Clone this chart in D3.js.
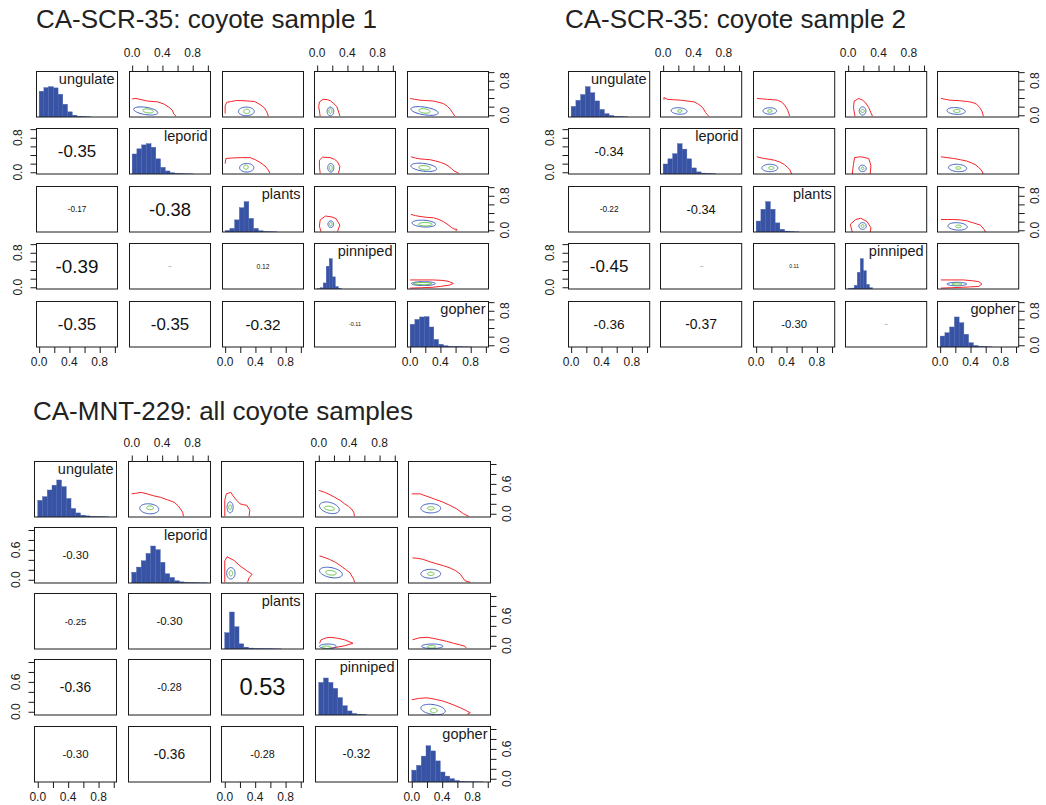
<!DOCTYPE html>
<html>
<head>
<meta charset="utf-8">
<script src="https://cdn.jsdelivr.net/npm/d3@7"></script>
<style>
  body { margin: 0; background: #fff; }
  svg { display: block; }
  text { font-family: "Liberation Sans", Arial, Helvetica, sans-serif; }
</style>
</head>
<body>
<svg id="chart" width="1046" height="805"></svg>
<script>
// ---- variables and axis ticks ----
const variables = ["ungulate", "leporid", "plants", "pinniped", "gopher"];
const xTicks = [0, 0.2, 0.4, 0.6, 0.8, 1.0];
const xTickLabels = ["0.0", "", "0.4", "", "0.8", ""];
const yTicksTop = [0, 0.2, 0.4, 0.6, 0.8, 1.0];
const yTickLabelsTop = ["0.0", "", "", "", "0.8", ""];
const yTicksBottom = [0, 0.2, 0.4, 0.6, 0.8, 1.0];
const yTickLabelsBottom = ["0.0", "", "", "0.6", "", ""];

// upper-panel order: (row, col) pairs, x = col variable, y = row variable
const upperPairs = [[0,1],[0,2],[0,3],[0,4],[1,2],[1,3],[1,4],[2,3],[2,4],[3,4]];

// ---- CA-SCR-35: coyote sample 1 ----
const scr1Title = "CA-SCR-35: coyote sample 1";
const scr1HistStep = [0.0625, 0.0625, 0.0625, 0.04, 0.0625];
const scr1Hist = [
  [0.85, 0.97, 1.0, 0.96, 0.75, 0.42, 0.17, 0.06, 0.025, 0.012, 0.006],
  [0.66, 0.83, 0.96, 1.0, 0.88, 0.5, 0.22, 0.1, 0.04, 0.02, 0.01, 0.006, 0.004],
  [0.05, 0.12, 0.4, 0.8, 1.0, 0.45, 0.12, 0.04, 0.015, 0.008, 0.005],
  [0.01, 0.04, 0.2, 0.75, 1.0, 0.4, 0.08, 0.02],
  [0.75, 0.91, 0.99, 1.0, 0.66, 0.25, 0.09, 0.04, 0.02, 0.012, 0.008, 0.005, 0.004]
];
const scr1Cor = [[-0.35], [-0.17, -0.38], [-0.39, 0.01, 0.12], [-0.35, -0.35, -0.32, -0.11]];
const scr1Red = [
  [[0,0.38],[0.05,0.39],[0.2,0.33],[0.34,0.31],[0.42,0.26],[0.49,0.18],[0.53,0.12],[0.55,0.03],[0.58,-0.02]],
  [[0,0.04],[0,0.22],[0.02,0.3],[0.08,0.32],[0.14,0.34],[0.22,0.34],[0.3,0.33],[0.39,0.32],[0.46,0.25],[0.52,0.17],[0.55,0.08],[0.57,-0.02]],
  [[0.04,-0.02],[0.03,0.1],[0.02,0.2],[0.03,0.31],[0.08,0.37],[0.14,0.36],[0.18,0.33],[0.22,0.27],[0.26,0.2],[0.28,0.1],[0.3,-0.02]],
  [[0,0.39],[0.06,0.37],[0.13,0.35],[0.22,0.34],[0.31,0.33],[0.38,0.3],[0.44,0.27],[0.49,0.21],[0.53,0.14],[0.56,0.06],[0.59,-0.02]],
  [[0,0.2],[0.01,0.32],[0.08,0.33],[0.2,0.34],[0.33,0.34],[0.4,0.29],[0.46,0.23],[0.53,0.14],[0.57,0.05],[0.59,-0.02]],
  [[0.04,-0.02],[0.03,0.12],[0.03,0.28],[0.07,0.35],[0.17,0.34],[0.23,0.3],[0.27,0.24],[0.3,0.13],[0.29,0.03],[0.28,-0.02]],
  [[0.01,0.36],[0.07,0.33],[0.13,0.31],[0.2,0.3],[0.27,0.29],[0.34,0.26],[0.4,0.23],[0.46,0.19],[0.5,0.15],[0.55,0.08],[0.58,0.03],[0.64,-0.02]],
  [[0.05,-0.03],[0.03,0.1],[0.04,0.24],[0.11,0.33],[0.19,0.31],[0.25,0.27],[0.3,0.12],[0.28,0.03],[0.27,-0.03]],
  [[0.01,0.37],[0.07,0.34],[0.13,0.32],[0.22,0.3],[0.31,0.29],[0.38,0.25],[0.44,0.2],[0.5,0.13],[0.55,0.06],[0.58,0.03],[0.62,0.02],[0.6,-0.02]],
  [[0,0.17],[0.15,0.17],[0.3,0.17],[0.42,0.16],[0.5,0.14],[0.57,0.09],[0.52,0.05],[0.4,0.02],[0.3,0.0],[0.15,-0.01],[0,-0.02]]
];
// ellipse contours: [cx, cy, rx, ry, shear]
const scr1Blue = [
  [0.18,0.10,0.16,0.085,-0.25],[0.28,0.09,0.105,0.1,0],[0.175,0.09,0.044,0.1,0],[0.19,0.1,0.18,0.09,-0.25],
  [0.285,0.105,0.094,0.1,0],[0.18,0.105,0.04,0.1,0],[0.18,0.115,0.17,0.09,-0.2],
  [0.18,0.14,0.037,0.078,0],[0.18,0.155,0.155,0.078,-0.1],[0.175,0.085,0.157,0.045,0]
];
const scr1Green = [
  [0.21,0.10,0.07,0.045,-0.2],[0.285,0.09,0.04,0.05,0],[0.175,0.10,0.02,0.06,0],[0.19,0.1,0.075,0.05,-0.2],
  [0.275,0.12,0.03,0.05,0],[0.18,0.1,0.018,0.06,0],[0.19,0.105,0.077,0.05,-0.15],
  [0.18,0.14,0.017,0.04,0],[0.2,0.14,0.09,0.04,0],[0.165,0.085,0.12,0.025,0]
];

// ---- CA-SCR-35: coyote sample 2 ----
const scr2Title = "CA-SCR-35: coyote sample 2";
const scr2HistStep = [0.0625, 0.0625, 0.0625, 0.04, 0.0625];
const scr2Hist = [
  [0.35, 0.55, 0.74, 1.0, 0.8, 0.53, 0.25, 0.11, 0.05, 0.02, 0.01, 0.005],
  [0.33, 0.5, 0.67, 1.0, 0.82, 0.5, 0.2, 0.07, 0.03, 0.02, 0.01],
  [0.36, 0.75, 1.0, 0.75, 0.3, 0.09, 0.03, 0.01, 0.005],
  [0.01, 0.03, 0.12, 0.55, 1.0, 0.6, 0.15, 0.04],
  [0.36, 0.47, 0.66, 0.99, 0.8, 0.42, 0.14, 0.05, 0.02, 0.01, 0.005]
];
const scr2Cor = [[-0.34], [-0.22, -0.34], [-0.45, -0.02, 0.11], [-0.36, -0.37, -0.30, 0.01]];
const scr2Red = [
  [[0.01,0.36],[0.01,0.41],[0.055,0.37],[0.14,0.36],[0.23,0.35],[0.32,0.33],[0.41,0.31],[0.47,0.25],[0.52,0.18],[0.56,0.06],[0.58,0.02],[0.6,-0.02]],
  [[0.01,0.39],[0.08,0.38],[0.15,0.37],[0.22,0.36],[0.28,0.35],[0.33,0.31],[0.37,0.25],[0.41,0.14],[0.43,0.05],[0.44,-0.02]],
  [[0.09,-0.02],[0.07,0.18],[0.08,0.33],[0.14,0.39],[0.19,0.35],[0.23,0.29],[0.27,0.18],[0.29,0.1],[0.32,-0.02]],
  [[0.01,0.39],[0.07,0.37],[0.13,0.35],[0.24,0.34],[0.35,0.32],[0.42,0.3],[0.48,0.26],[0.52,0.18],[0.55,0.1],[0.57,-0.02]],
  [[0.01,0.36],[0.1,0.32],[0.18,0.3],[0.24,0.28],[0.31,0.24],[0.37,0.18],[0.41,0.12],[0.44,0.07],[0.47,-0.05]],
  [[0.055,-0.05],[0.06,0.05],[0.07,0.18],[0.085,0.34],[0.165,0.36],[0.22,0.34],[0.27,0.32],[0.29,0.22],[0.3,0.15],[0.29,-0.05]],
  [[0.01,0.36],[0.09,0.34],[0.18,0.32],[0.27,0.29],[0.35,0.26],[0.41,0.22],[0.46,0.18],[0.51,0.11],[0.55,0.03],[0.57,-0.05]],
  [[0.055,-0.05],[0.04,0.05],[0.03,0.14],[0.1,0.25],[0.165,0.28],[0.25,0.2],[0.3,0.06],[0.29,-0.05]],
  [[0.01,0.25],[0.1,0.25],[0.18,0.25],[0.27,0.24],[0.35,0.22],[0.44,0.17],[0.53,0.12],[0.58,0.02],[0.6,-0.05]],
  [[0.01,0.17],[0.15,0.17],[0.31,0.17],[0.43,0.15],[0.51,0.13],[0.55,0.075],[0.51,0.02],[0.4,0.01],[0.31,0.0],[0.15,-0.01],[0.01,-0.02]]
];
const scr2Blue = [
  [0.21,0.1,0.105,0.075,-0.1],[0.18,0.1,0.09,0.075,0],[0.19,0.1,0.044,0.095,0],[0.21,0.1,0.12,0.078,-0.1],
  [0.18,0.1,0.105,0.085,0],[0.19,0.09,0.048,0.075,0],[0.23,0.1,0.12,0.085,-0.1],
  [0.19,0.1,0.048,0.078,0],[0.23,0.09,0.127,0.085,-0.1],[0.22,0.075,0.13,0.04,0]
];
const scr2Green = [
  [0.22,0.1,0.03,0.03,0],[0.18,0.1,0.03,0.03,0],[0.19,0.1,0.022,0.04,0],[0.22,0.1,0.044,0.035,0],
  [0.2,0.1,0.035,0.035,0],[0.19,0.09,0.018,0.03,0],[0.24,0.1,0.033,0.03,0],
  [0.19,0.1,0.018,0.035,0],[0.24,0.09,0.037,0.03,0],[0.22,0.075,0.066,0.025,0]
];

// ---- CA-MNT-229: all coyote samples ----
const mntTitle = "CA-MNT-229: all coyote samples";
const mntHistStep = [0.0625, 0.0625, 0.0625, 0.0625, 0.0625];
const mntHist = [
  [0.45, 0.55, 0.73, 0.86, 1.0, 0.82, 0.5, 0.23, 0.11, 0.05, 0.03, 0.015, 0.01, 0.006, 0.004],
  [0.29, 0.43, 0.6, 0.8, 1.0, 0.9, 0.56, 0.25, 0.15, 0.06, 0.03, 0.02, 0.01, 0.006, 0.005, 0.004],
  [0.44, 1.0, 0.6, 0.14, 0.05, 0.025, 0.015, 0.01, 0.008, 0.006, 0.005, 0.004],
  [0.88, 1.0, 0.88, 0.72, 0.47, 0.25, 0.11, 0.04, 0.02, 0.01],
  [0.32, 0.45, 0.7, 0.98, 0.84, 0.57, 0.27, 0.16, 0.09, 0.04, 0.02, 0.01, 0.006, 0.005, 0.004]
];
const mntCor = [[-0.30], [-0.25, -0.30], [-0.36, -0.28, 0.53], [-0.30, -0.36, -0.28, -0.32]];
const mntRed = [
  [[0,0.4],[0.05,0.41],[0.12,0.43],[0.2,0.4],[0.29,0.36],[0.38,0.33],[0.47,0.28],[0.56,0.23],[0.61,0.16],[0.64,0.1],[0.67,0.03],[0.68,-0.05]],
  [[0,-0.05],[0,0.27],[0.02,0.4],[0.08,0.43],[0.11,0.36],[0.14,0.3],[0.2,0.2],[0.25,0.18],[0.29,0.17],[0.33,0.07],[0.32,-0.05]],
  [[0,0.47],[0.08,0.43],[0.15,0.38],[0.21,0.33],[0.28,0.27],[0.34,0.2],[0.39,0.15],[0.43,0.1],[0.46,0.03],[0.47,-0.05]],
  [[0,0.4],[0.11,0.4],[0.2,0.35],[0.29,0.3],[0.4,0.24],[0.5,0.17],[0.59,0.1],[0.68,0.0],[0.75,-0.05]],
  [[0,-0.05],[0,0.38],[0.03,0.46],[0.12,0.39],[0.2,0.28],[0.29,0.18],[0.36,0.11],[0.32,0.04],[0.3,-0.05]],
  [[0.01,0.48],[0.07,0.45],[0.14,0.41],[0.22,0.35],[0.29,0.28],[0.35,0.21],[0.41,0.14],[0.46,0.01],[0.47,-0.05]],
  [[0.01,0.44],[0.08,0.43],[0.15,0.41],[0.24,0.36],[0.33,0.32],[0.42,0.28],[0.5,0.24],[0.58,0.18],[0.64,0.11],[0.7,-0.02],[0.77,-0.05]],
  [[0.01,0.05],[0.03,0.12],[0.1,0.16],[0.16,0.17],[0.25,0.15],[0.34,0.12],[0.45,0.05],[0.34,0.0],[0.16,-0.05]],
  [[0.01,0.12],[0.1,0.16],[0.2,0.17],[0.28,0.15],[0.37,0.12],[0.46,0.09],[0.55,0.05],[0.63,0.02],[0.7,-0.01],[0.72,-0.05]],
  [[0,0.24],[0.1,0.27],[0.2,0.28],[0.31,0.25],[0.42,0.21],[0.53,0.15],[0.64,0.08],[0.72,0.02],[0.77,-0.02],[0.73,-0.05]]
];
const mntBlue = [
  [0.23,0.1,0.125,0.1,-0.1],[0.07,0.13,0.04,0.11,0],[0.14,0.12,0.13,0.11,-0.3],[0.25,0.11,0.13,0.093,0],
  [0.08,0.13,0.055,0.115,0],[0.16,0.145,0.15,0.1,-0.25],[0.25,0.12,0.13,0.09,0],
  [0.12,-0.01,0.11,0.045,0],[0.27,-0.01,0.14,0.045,0],[0.28,0.045,0.16,0.1,-0.2]
];
const mntGreen = [
  [0.24,0.12,0.046,0.037,0],[0.07,0.13,0.018,0.05,0],[0.14,0.11,0.066,0.04,-0.2],[0.25,0.11,0.044,0.033,0],
  [0.08,0.13,0.022,0.055,0],[0.16,0.14,0.07,0.045,-0.15],[0.25,0.12,0.044,0.033,0],
  [0.1,-0.03,0.06,0.025,0],[0.26,-0.02,0.055,0.025,0],[0.29,0.025,0.044,0.045,0]
];

// ---- styling ----
const HIST_FILL = "#3953a4";
const HIST_EDGE = "#4862b0";
const RED = "#f4242a";
const BLUE = "#3a5cc0";
const GREEN = "#5cbf3c";
const INK = "#1a1a1a";

// plain hyphen for negative numbers
const fmtCor = v => d3.format(".2f")(v).replace("\u2212", "-");

const svg = d3.select("#chart");
let clipId = 0;

function drawMatrix(cfg) {
  const g = svg.append("g");
  g.append("text")
    .attr("x", cfg.titleX).attr("y", cfg.titleY)
    .attr("font-size", 26).attr("fill", "#222")
    .text(cfg.title);

  const n = variables.length;
  const cell = (r, c) => {
    const x0 = Math.round(cfg.left + c * cfg.pitchX) + 0.5;
    const y0 = Math.round(cfg.top + r * cfg.pitchY) + 0.5;
    return {x0, y0, x1: x0 + cfg.w, y1: y0 + cfg.h};
  };

  for (let r = 0; r < n; r++) {
    for (let c = 0; c < n; c++) {
      const b = cell(r, c);
      const x = d3.scaleLinear().domain(cfg.xDomain).range([b.x0, b.x1]);
      const y = d3.scaleLinear().domain(cfg.yDomain).range([b.y1, b.y0]);
      const p = g.append("g");
      const id = "clip" + (clipId++);
      p.append("clipPath").attr("id", id).append("rect")
        .attr("x", b.x0).attr("y", b.y0).attr("width", cfg.w).attr("height", cfg.h);
      const inner = p.append("g").attr("clip-path", `url(#${id})`);

      if (r === c) {
        // diagonal: histogram scaled so the tallest bar reaches 1 on a 0..1.5 axis
        const hy = d3.scaleLinear().domain([0, 1.5]).range([b.y1, b.y0]);
        const step = cfg.histStep[r];
        const bins = cfg.hist[r].map((v, i) => ({x0: i * step, x1: (i + 1) * step, v}));
        inner.selectAll("rect.bar").data(bins).join("rect")
          .attr("class", "bar")
          .attr("x", d => x(d.x0)).attr("width", d => x(d.x1) - x(d.x0))
          .attr("y", d => hy(d.v)).attr("height", d => hy(0) - hy(d.v))
          .attr("fill", HIST_FILL).attr("stroke", HIST_EDGE).attr("stroke-width", 0.4);
        p.append("text")
          .attr("x", b.x1 - 3).attr("y", b.y0 + 12.5)
          .attr("text-anchor", "end").attr("font-size", 14.5).attr("fill", INK)
          .text(variables[r]);
      } else if (r > c) {
        // lower: correlation, text width proportional to |r|
        const val = cfg.cor[r - 1][c];
        const t = p.append("text")
          .attr("x", (b.x0 + b.x1) / 2).attr("y", (b.y0 + b.y1) / 2)
          .attr("text-anchor", "middle").attr("dominant-baseline", "central")
          .attr("font-size", 20).attr("fill", "#111")
          .text(fmtCor(val));
        const len = t.node().getComputedTextLength();
        t.attr("font-size", Math.max(1.5, 20 * cfg.corScale * Math.abs(val) / len));
      } else {
        // upper: density contours
        const k = upperPairs.findIndex(([a, bb]) => a === r && bb === c);
        const line = d3.line().x(d => x(d[0])).y(d => y(d[1]));
        const ellipse = ([cx, cy, rx, ry, sh]) => d3.range(0, 65).map(i => {
          const t = i / 64 * 2 * Math.PI;
          const dx = rx * Math.cos(t);
          return [cx + dx, cy + ry * Math.sin(t) + sh * dx];
        });
        inner.append("path").attr("d", line(cfg.red[k]))
          .attr("fill", "none").attr("stroke", RED).attr("stroke-width", 1);
        inner.append("path").attr("d", line(ellipse(cfg.blue[k])))
          .attr("fill", "none").attr("stroke", BLUE).attr("stroke-width", 1);
        inner.append("path").attr("d", line(ellipse(cfg.green[k])))
          .attr("fill", "none").attr("stroke", GREEN).attr("stroke-width", 1);
      }

      p.append("rect")
        .attr("x", b.x0).attr("y", b.y0).attr("width", cfg.w).attr("height", cfg.h)
        .attr("fill", "none").attr("stroke", INK).attr("stroke-width", 1);

      // outer axes, alternating sides as in a pairs plot
      const ya = cfg.yTicks, yl = cfg.yTickLabels;
      if (r === 0 && c % 2 === 1) {
        const ax = p.append("g").attr("transform", `translate(0,${b.y0})`)
          .call(d3.axisTop(x).tickValues(xTicks).tickFormat("").tickSize(6).tickSizeOuter(0));
        ax.select(".domain").remove();
        ax.selectAll("line").attr("stroke", INK);
        xTicks.forEach((v, i) => { if (xTickLabels[i]) p.append("text")
          .attr("x", x(v)).attr("y", b.y0 - 14.5).attr("text-anchor", "middle")
          .attr("font-size", 12).attr("fill", INK).text(xTickLabels[i]); });
      }
      if (r === n - 1 && c % 2 === 0) {
        const ax = p.append("g").attr("transform", `translate(0,${b.y1})`)
          .call(d3.axisBottom(x).tickValues(xTicks).tickFormat("").tickSize(6).tickSizeOuter(0));
        ax.select(".domain").remove();
        ax.selectAll("line").attr("stroke", INK);
        xTicks.forEach((v, i) => { if (xTickLabels[i]) p.append("text")
          .attr("x", x(v)).attr("y", b.y1 + 19).attr("text-anchor", "middle")
          .attr("font-size", 12).attr("fill", INK).text(xTickLabels[i]); });
      }
      if (c === n - 1 && r % 2 === 0) {
        const ax = p.append("g").attr("transform", `translate(${b.x1},0)`)
          .call(d3.axisRight(y).tickValues(ya).tickFormat("").tickSize(6).tickSizeOuter(0));
        ax.select(".domain").remove();
        ax.selectAll("line").attr("stroke", INK);
        ya.forEach((v, i) => { if (yl[i]) p.append("text")
          .attr("transform", `translate(${b.x1 + 20.3},${y(v)}) rotate(-90)`)
          .attr("text-anchor", "middle").attr("font-size", 12).attr("fill", INK).text(yl[i]); });
      }
      if (c === 0 && r % 2 === 1) {
        const ax = p.append("g").attr("transform", `translate(${b.x0},0)`)
          .call(d3.axisLeft(y).tickValues(ya).tickFormat("").tickSize(6).tickSizeOuter(0));
        ax.select(".domain").remove();
        ax.selectAll("line").attr("stroke", INK);
        ya.forEach((v, i) => { if (yl[i]) p.append("text")
          .attr("transform", `translate(${b.x0 - 14.7},${y(v)}) rotate(-90)`)
          .attr("text-anchor", "middle").attr("font-size", 12).attr("fill", INK).text(yl[i]); });
      }
    }
  }
}

drawMatrix({
  title: scr1Title, titleX: 36, titleY: 28,
  left: 36, pitchX: 92.8, w: 81, top: 70.7, pitchY: 57.45, h: 45.5,
  xDomain: [-0.035, 1.035], yDomain: [-0.04, 1.015],
  yTicks: yTicksTop, yTickLabels: yTickLabelsTop,
  hist: scr1Hist, histStep: scr1HistStep, cor: scr1Cor, corScale: 110,
  red: scr1Red, blue: scr1Blue, green: scr1Green
});
drawMatrix({
  title: scr2Title, titleX: 565, titleY: 28,
  left: 567.7, pitchX: 92.4, w: 81.2, top: 70.7, pitchY: 57.45, h: 45.5,
  xDomain: [-0.035, 1.035], yDomain: [-0.04, 1.015],
  yTicks: yTicksTop, yTickLabels: yTickLabelsTop,
  hist: scr2Hist, histStep: scr2HistStep, cor: scr2Cor, corScale: 86,
  red: scr2Red, blue: scr2Blue, green: scr2Green
});
drawMatrix({
  title: mntTitle, titleX: 33, titleY: 420,
  left: 34, pitchX: 93.6, w: 82, top: 460.7, pitchY: 66.25, h: 55.5,
  xDomain: [-0.043, 1.036], yDomain: [-0.065, 1.05],
  yTicks: yTicksBottom, yTickLabels: yTickLabelsBottom,
  hist: mntHist, histStep: mntHistStep, cor: mntCor, corScale: 87,
  red: mntRed, blue: mntBlue, green: mntGreen
});
</script>
</body>
</html>
